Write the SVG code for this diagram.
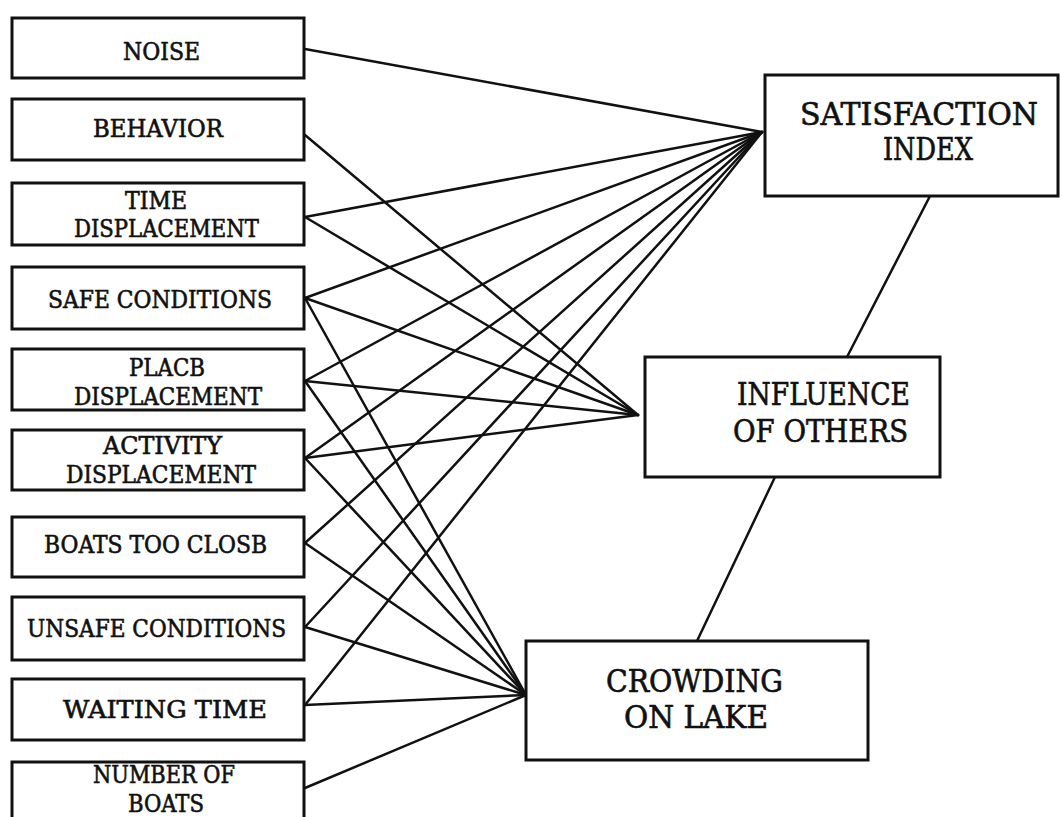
<svg xmlns="http://www.w3.org/2000/svg" width="1062" height="817" viewBox="0 0 1062 817">
<style>
.box{fill:#fff;stroke:#111;stroke-width:3}
.t{font-family:"DejaVu Serif Condensed","DejaVu Serif","Liberation Serif",serif;font-stretch:condensed;font-size:25px;fill:#111;stroke:#111;stroke-width:0.6}
.tb{font-family:"DejaVu Serif Condensed","DejaVu Serif","Liberation Serif",serif;font-stretch:condensed;font-size:31px;fill:#111;stroke:#111;stroke-width:0.6}
.ln{stroke:#111;stroke-width:2.5;fill:none;stroke-linecap:round}
</style>
<rect width="1062" height="817" fill="#fff"/>
<g id="connectors">
<line class="ln" x1="305" y1="49" x2="762" y2="132"/>
<line class="ln" x1="305" y1="135" x2="638" y2="415"/>
<line class="ln" x1="305" y1="217" x2="762" y2="132"/>
<line class="ln" x1="305" y1="217" x2="638" y2="415"/>
<line class="ln" x1="305" y1="298" x2="762" y2="132"/>
<line class="ln" x1="305" y1="298" x2="638" y2="415"/>
<line class="ln" x1="305" y1="298" x2="526" y2="695"/>
<line class="ln" x1="305" y1="381" x2="762" y2="132"/>
<line class="ln" x1="305" y1="381" x2="638" y2="415"/>
<line class="ln" x1="305" y1="381" x2="526" y2="695"/>
<line class="ln" x1="305" y1="458" x2="762" y2="132"/>
<line class="ln" x1="305" y1="458" x2="638" y2="415"/>
<line class="ln" x1="305" y1="458" x2="526" y2="695"/>
<line class="ln" x1="305" y1="543" x2="762" y2="132"/>
<line class="ln" x1="305" y1="543" x2="526" y2="695"/>
<line class="ln" x1="305" y1="627" x2="762" y2="132"/>
<line class="ln" x1="305" y1="627" x2="526" y2="695"/>
<line class="ln" x1="305" y1="705" x2="762" y2="132"/>
<line class="ln" x1="305" y1="705" x2="526" y2="695"/>
<line class="ln" x1="305" y1="788" x2="526" y2="695"/>
<line class="ln" x1="930" y1="196" x2="847" y2="357"/>
<line class="ln" x1="775" y1="477" x2="697" y2="641"/>
</g>
<g id="noise"><rect class="box" x="12" y="18" width="292" height="60"/><text class="t" x="123" y="60" textLength="77" lengthAdjust="spacingAndGlyphs">NOISE</text></g>
<g id="behavior"><rect class="box" x="12" y="99" width="292" height="61"/><text class="t" x="93" y="137" textLength="130" lengthAdjust="spacingAndGlyphs">BEHAVIOR</text></g>
<g id="time-displacement"><rect class="box" x="12" y="183" width="292" height="62"/><text class="t" x="125" y="209" textLength="62" lengthAdjust="spacingAndGlyphs">TIME</text><text class="t" x="74" y="237" textLength="185" lengthAdjust="spacingAndGlyphs">DISPLACEMENT</text></g>
<g id="safe-conditions"><rect class="box" x="12" y="267" width="292" height="62"/><text class="t" x="48" y="308" textLength="224" lengthAdjust="spacingAndGlyphs">SAFE CONDITIONS</text></g>
<g id="place-displacement"><rect class="box" x="12" y="349" width="292" height="61"/><text class="t" x="129" y="376" textLength="76" lengthAdjust="spacingAndGlyphs">PLACB</text><text class="t" x="74" y="405" textLength="188" lengthAdjust="spacingAndGlyphs">DISPLACEMENT</text></g>
<g id="activity-displacement"><rect class="box" x="12" y="430" width="292" height="60"/><text class="t" x="103" y="454" textLength="119" lengthAdjust="spacingAndGlyphs">ACTIVITY</text><text class="t" x="66" y="483" textLength="190" lengthAdjust="spacingAndGlyphs">DISPLACEMENT</text></g>
<g id="boats-too-close"><rect class="box" x="12" y="517" width="292" height="60"/><text class="t" x="44" y="553" textLength="223" lengthAdjust="spacingAndGlyphs">BOATS TOO CLOSB</text></g>
<g id="unsafe-conditions"><rect class="box" x="12" y="597" width="292" height="63"/><text class="t" x="27" y="637" textLength="259" lengthAdjust="spacingAndGlyphs">UNSAFE CONDITIONS</text></g>
<g id="waiting-time"><rect class="box" x="12" y="679" width="292" height="61"/><text class="t" x="63" y="718" textLength="204" lengthAdjust="spacingAndGlyphs">WAITING TIME</text></g>
<g id="number-of-boats"><rect class="box" x="12" y="762" width="292" height="70"/><text class="t" x="93" y="783" textLength="142" lengthAdjust="spacingAndGlyphs">NUMBER OF</text><text class="t" x="128" y="812" textLength="76" lengthAdjust="spacingAndGlyphs">BOATS</text></g>
<g id="satisfaction-index"><rect class="box" x="765" y="75" width="293" height="121"/><text class="tb" x="800" y="125" textLength="238" lengthAdjust="spacingAndGlyphs">SATISFACTION</text><text class="tb" x="883" y="160" textLength="90" lengthAdjust="spacingAndGlyphs">INDEX</text></g>
<g id="influence-of-others"><rect class="box" x="645" y="357" width="295" height="120"/><text class="tb" x="737" y="405" textLength="173" lengthAdjust="spacingAndGlyphs">INFLUENCE</text><text class="tb" x="733" y="442" textLength="175" lengthAdjust="spacingAndGlyphs">OF OTHERS</text></g>
<g id="crowding-on-lake"><rect class="box" x="526" y="641" width="342" height="119"/><text class="tb" x="606" y="692" textLength="177" lengthAdjust="spacingAndGlyphs">CROWDING</text><text class="tb" x="624" y="728" textLength="144" lengthAdjust="spacingAndGlyphs">ON LAKE</text></g>
</svg>
